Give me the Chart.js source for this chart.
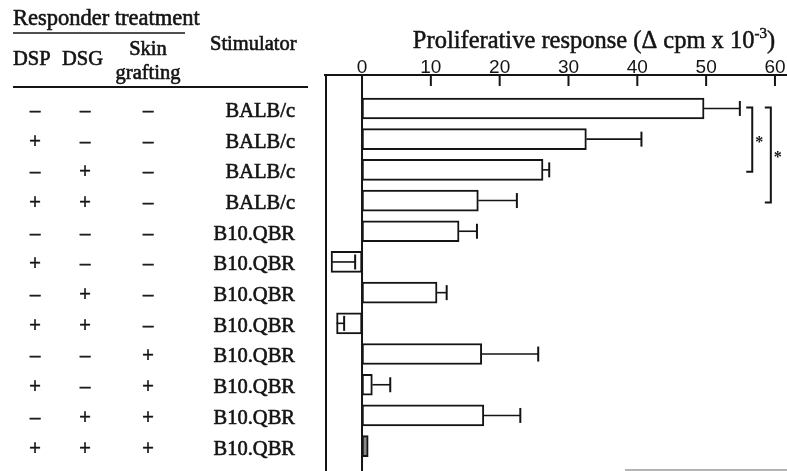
<!DOCTYPE html>
<html><head><meta charset="utf-8">
<script src="https://cdn.jsdelivr.net/npm/chart.js@4.4.1/dist/chart.umd.min.js"></script>
<style>html,body{margin:0;padding:0;background:#fff;}#wrap{position:relative;width:787px;height:471px;}</style>
</head><body><div id="wrap"><canvas id="c" width="787" height="471"></canvas></div>
<script>
const stimulators = ['BALB/c','BALB/c','BALB/c','BALB/c','B10.QBR','B10.QBR','B10.QBR','B10.QBR','B10.QBR','B10.QBR','B10.QBR','B10.QBR'];
const dsp  = ['-','+','-','+','-','+','-','+','-','+','-','+'];
const dsg  = ['-','-','+','+','-','-','+','+','-','-','+','+'];
const skin = ['-','-','-','-','-','-','-','-','+','+','+','+'];
const response = [49.7, 32.6, 26.3, 16.9, 14.1, -4.5, 10.9, -3.7, 17.4, 1.5, 17.7, 0.9];
const errorEnd = [54.9, 40.6, 27.2, 22.5, 16.7, -1.0, 12.3, -2.6, 25.6, 4.1, 23.0, null];
const xTicks = [0, 10, 20, 30, 40, 50, 60];
const sigPairs = [[0, 2], [0, 3]];
const sigMarks = ['*', '*'];

const INK = '#141414';
const SERIF = '"Liberation Serif", "Times New Roman", serif';

function inkText(ctx, s, x, y) {
  ctx.fillText(s, x, y);
  ctx.strokeText(s, x, y);
}

const overlay = {
  id: 'overlay',
  afterDatasetsDraw(chart) {
    const ctx = chart.ctx, xs = chart.scales.x, ys = chart.scales.y, ca = chart.chartArea;
    ctx.save();
    ctx.strokeStyle = INK; ctx.fillStyle = INK; ctx.lineCap = 'butt';
    // frame left line and zero line
    ctx.lineWidth = 2;
    ctx.beginPath();
    ctx.moveTo(ca.left + 1, ca.top); ctx.lineTo(ca.left + 1, ca.bottom);
    const x0 = xs.getPixelForValue(0);
    ctx.moveTo(x0, ca.top); ctx.lineTo(x0, ca.bottom);
    ctx.stroke();
    // tick marks pointing down
    ctx.beginPath();
    xTicks.forEach(v => { if (v !== 0) { const px = xs.getPixelForValue(v); ctx.moveTo(px, ca.top); ctx.lineTo(px, ca.top + 11); } });
    ctx.stroke();
    // error bars
    response.forEach((v, i) => {
      const e = errorEnd[i];
      if (e === null || e === undefined) return;
      const y = ys.getPixelForValue(i);
      const xa = xs.getPixelForValue(v), xb = xs.getPixelForValue(e);
      ctx.lineWidth = 1.6;
      ctx.beginPath(); ctx.moveTo(xa, y); ctx.lineTo(xb, y); ctx.stroke();
      ctx.lineWidth = 2;
      ctx.beginPath(); ctx.moveTo(xb, y - 7.5); ctx.lineTo(xb, y + 7.5); ctx.stroke();
    });
    // significance brackets
    const bx = [xs.getPixelForValue(56.7), xs.getPixelForValue(59.4)];
    sigPairs.forEach((p, k) => {
      const yt = ys.getPixelForValue(p[0]) - 1, yb = ys.getPixelForValue(p[1]) + 2;
      ctx.lineWidth = 2;
      ctx.beginPath();
      ctx.moveTo(bx[k] - 6, yt); ctx.lineTo(bx[k], yt); ctx.lineTo(bx[k], yb); ctx.lineTo(bx[k] - 6, yb);
      ctx.stroke();
      ctx.font = 'bold 16px ' + SERIF; ctx.textAlign = 'center'; ctx.textBaseline = 'middle';
      ctx.fillText(sigMarks[k], bx[k] + 7, (yt + yb) / 2 + 3);
    });
    // faint bottom line
    ctx.strokeStyle = '#9a9a9a'; ctx.lineWidth = 1.5;
    ctx.beginPath(); ctx.moveTo(625, 470); ctx.lineTo(787, 470); ctx.stroke();
    ctx.strokeStyle = INK;

    // axis title with superscript
    ctx.lineWidth = 0.5;
    const t1 = 'Proliferative response (\u0394 cpm x 10', t2 = '-3', t3 = ')';
    ctx.textAlign = 'left'; ctx.textBaseline = 'alphabetic';
    ctx.font = '24.5px ' + SERIF; const w1 = ctx.measureText(t1).width, w3 = ctx.measureText(t3).width;
    ctx.font = '15px ' + SERIF; const w2 = ctx.measureText(t2).width;
    let tx = 594 - (w1 + w2 + w3) / 2;
    ctx.font = '24.5px ' + SERIF; inkText(ctx, t1, tx, 48); tx += w1;
    ctx.font = '15px ' + SERIF; inkText(ctx, t2, tx, 38); tx += w2;
    ctx.font = '24.5px ' + SERIF; inkText(ctx, t3, tx, 48);

    // left table header
    ctx.lineWidth = 0.6;
    ctx.font = '22.5px ' + SERIF; inkText(ctx, 'Responder treatment', 13, 25);
    ctx.lineWidth = 1.5;
    ctx.beginPath(); ctx.moveTo(13, 33); ctx.lineTo(185, 33); ctx.stroke();
    ctx.lineWidth = 0.6;
    ctx.font = '20.5px ' + SERIF;
    inkText(ctx, 'DSP', 13, 65);
    inkText(ctx, 'DSG', 62, 65);
    inkText(ctx, 'Stimulator', 210, 50);
    ctx.textAlign = 'center';
    inkText(ctx, 'Skin', 148, 55);
    inkText(ctx, 'grafting', 148, 79);
    ctx.lineWidth = 2;
    ctx.beginPath(); ctx.moveTo(13, 87); ctx.lineTo(308, 87); ctx.stroke();
    // rows
    ctx.lineWidth = 0.6;
    const sym = s => s === '+' ? '+' : '\u2013';
    ctx.textBaseline = 'middle';
    stimulators.forEach((s, i) => {
      const y = ys.getPixelForValue(i) + 3;
      ctx.textAlign = 'center';
      inkText(ctx, sym(dsp[i]), 35, y);
      inkText(ctx, sym(dsg[i]), 85, y);
      inkText(ctx, sym(skin[i]), 148, y);
      ctx.textAlign = 'right';
      inkText(ctx, s, 295, y);
    });
    ctx.restore();
  }
};

new Chart(document.getElementById('c'), {
  type: 'bar',
  data: {
    datasets: [{
      data: response.map((v, i) => ({ x: v, y: i })),
      backgroundColor: c => c.dataIndex === response.length - 1 ? '#8a8a8a' : '#ffffff',
      borderColor: INK,
      borderWidth: 2,
      borderSkipped: false,
      barThickness: 21
    }]
  },
  options: {
    responsive: false,
    animation: false,
    indexAxis: 'y',
    layout: { padding: { left: 325, right: 0, top: 0, bottom: 0 } },
    plugins: { legend: { display: false }, tooltip: { enabled: false }, title: { display: false } },
    scales: {
      x: {
        type: 'linear', position: 'top', min: -5.38, max: 61.75,
        afterBuildTicks: s => { s.ticks = xTicks.map(v => ({ value: v })); },
        afterFit: s => { s.height = 75; },
        grid: { display: false, drawTicks: false },
        border: { display: true, color: INK, width: 2 },
        ticks: { color: INK, font: { family: 'Liberation Sans', size: 19 }, padding: -4, maxRotation: 0, autoSkip: false }
      },
      y: { type: 'linear', reverse: true, offset: false, min: -1.09, max: 11.81, display: false }
    }
  },
  plugins: [overlay]
});
</script>
</body></html>
